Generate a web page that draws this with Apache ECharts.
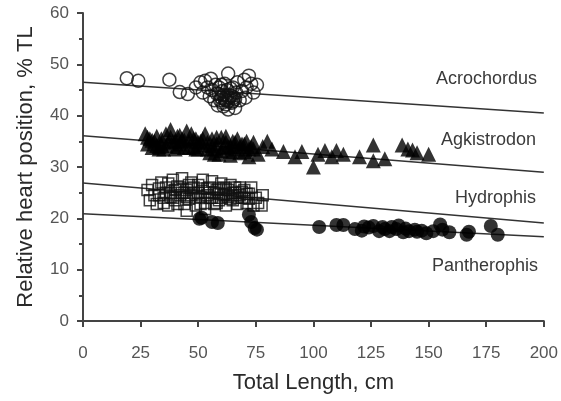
<!DOCTYPE html>
<html>
<head>
<meta charset="utf-8">
<script src="https://cdn.jsdelivr.net/npm/echarts@6/dist/echarts.min.js"></script>
<style>
  html, body { margin: 0; padding: 0; background: #fff; }
  #chart { width: 561px; height: 401px; }
</style>
</head>
<body>
<div id="chart"></div>
<script>
// total length (cm), relative heart position (% TL)
const acrochordus = [
  [19,47.3],[24,46.8],[37.5,47],[42,44.6],[45.5,44.2],[49,45.5],[51,46.5],[52,44.5],[53,46.8],[54,45.5],
  [55,43.8],[55.5,47.2],[56,45],[57,43],[57.5,46],[58,44.3],[58.5,42],[59,45.5],[60,43.5],[60.5,44.8],
  [61,41.8],[61.5,46.2],[62,43],[62.5,45],[63,48.2],[63,41.2],[64,44],[64.5,42.5],[65,45.5],[65.5,43.5],
  [66,41.5],[66.5,44.5],[67,46.5],[68,43],[69,44.8],[70,47],[71,45.5],[72,47.8],[73,46.2],[74,44.5],
  [75.5,46],[70.5,43.5],[59.5,43],[61,44],[63.5,43.5],[62,42.2],[64,45.3],[60,46],[62.5,44],[63,42.8],
  [61.5,43.2],[64.5,43.8],[60.5,42.5],[65,42.8],[59,44.2],[66,43.2]
];
const agkistrodon = [
  [27,36.5],[28,34.5],[29,35.5],[30,33.8],[31,35],[32,36],[33,34],[34,35.5],[35,33.5],[36,36.5],
  [37,34.8],[38,37.3],[39,35],[40,33.5],[41,36],[42,34.5],[43,35.5],[44,33.8],[45,37],[46,35],
  [47,36.5],[48,34],[49,35.5],[50,33.5],[51,35],[52,34.3],[53,36.5],[54,34.8],[55,32.8],[56,35.5],
  [57,33.5],[58,34.5],[59,32.5],[60,35.8],[61,33.8],[62,36],[63,34],[64,32.3],[65,35],[66,33.5],
  [67,35.5],[68,32.8],[69,34.5],[70,33],[71,35],[72,32],[73,34],[74,33.5],[76,32.5],[78,34],
  [80,35],[82,33.5],[87,33],[92,32],[95,33],[100,30],[102,32.5],[105,33.2],[108,32],[110,33.2],
  [113,32.5],[120,32],[126,34.3],[126,31.2],[131,31.6],[138.5,34.3],[141,33.5],[143,33.3],[145,32.8],[150,32.5],
  [28,35.8],[30,35.2],[32,34.2],[34,34.5],[36,34.2],[38,35.8],[40,35],[42,36.2],[44,35.2],[46,33.8],
  [48,35.5],[50,34.8],[52,35.5],[54,33.5],[56,34.2],[58,35.8],[60,33.2],[62,34.8],[64,34],[66,34.8],
  [68,34],[70,34.5],[72,33.5],[74,34.8],[64,33],[57,32.5],[49,33.5],[41,34],[33,33.5]
];
const hydrophis = [
  [28,25.5],[29,23.5],[30,26.5],[31,24.5],[32,22.8],[33,25.8],[34,27],[35,24],[36,26],[37,22.5],
  [38,25],[39,27.5],[40,23.5],[41,26.2],[42,24.5],[43,27.8],[44,22.8],[45,25.5],[46,23.8],[47,27],
  [48,25],[49,22.5],[50,26.5],[51,24.2],[52,27.5],[53,23],[54,25.8],[55,24],[56,27.2],[57,22.8],
  [58,25.5],[59,23.5],[60,26.8],[61,24.5],[62,22.5],[63,25.5],[64,26.5],[65,23.5],[66,25],[67,22.8],
  [68,26],[69,24],[70,25.5],[71,23],[72,24.8],[73,26],[74,22.5],[75,24],[76,23],[77.5,22.5],
  [78,24.5],[53,21.8],[45,21.5],[33,24.5],[36,25],[39,24],[42,26],[44,25],[47,24.5],[50,25],
  [53,25],[56,24],[59,25.8],[62,24.8],[65,25],[68,24.5],[71,24.8],[40,25.5],[48,26],[58,23],
  [64,23.8],[70,24],[37,26.8],[46,26.5],[55,26],[61,26],[35,23],[41,22.8],[51,22.8],[67,24],
  [38,24.2],[43,25],[49,24],[52,25.8],[57,25],[60,24],[63,24.2],[66,26],[69,25.2],[72,23.8],
  [45,24.2],[54,24.5],[47,25.8],[59,24.8],[62,25.8],[65,24.5]
];
const pantherophis = [
  [50.5,19.9],[51.5,20.1],[56,19.3],[58.5,19.1],[72,20.7],[73,19.3],[74.5,18.1],[75.5,17.8],
  [102.5,18.3],[110,18.7],[113,18.7],[118,17.9],[121,17.6],[124,18.2],[126,18.5],[128.5,17.5],
  [131,17.9],[134,18.3],[136,17.9],[137,18.6],[139,17.3],[141.5,17.5],[144,17.8],[145,17.4],
  [149,17.1],[152,17.5],[155,18.8],[156,17.8],[159,17.3],[166.5,16.8],[167.5,17.4],[177,18.5],[180,16.8],
  [122,18.4],[130,18.3],[133,17.5],[140,18],[147,17.6]
];
// regression lines, ends at 0 and 200 cm
const lineX = [0, 200];
const acroLine = [46.5, 40.5];
const agkLine = [36.1, 29.0];
const hydLine = [26.9, 19.1];
const panLine = [20.9, 16.4];

const xTicks = [0, 25, 50, 75, 100, 125, 150, 175, 200];
const yTicks = [0, 10, 20, 30, 40, 50, 60];

const chart = echarts.init(document.getElementById('chart'));

function fitLine(ys) {
  return {
    type: 'line', data: lineX.map((x, i) => [x, ys[i]]),
    symbol: 'none', silent: true, z: 1,
    lineStyle: { color: '#333', width: 1.5 }
  };
}

const labelFont = { fontFamily: 'Liberation Sans, Arial, sans-serif', fontSize: 18, fill: '#3a3a3a' };

chart.setOption({
  animation: false,
  grid: { left: 83, right: 16, top: 13, bottom: 80 },
  xAxis: {
    type: 'value', min: 0, max: 200, interval: 25, offset: 10,
    name: 'Total Length, cm', nameLocation: 'middle', nameGap: 41,
    nameTextStyle: { fontFamily: 'Liberation Sans, Arial, sans-serif', fontSize: 22, color: '#2a2a2a' },
    axisLine: { lineStyle: { color: '#444', width: 2 } },
    axisTick: { length: 6, lineStyle: { color: '#444', width: 2 } },
    axisLabel: { margin: 14, fontFamily: 'Liberation Sans, Arial, sans-serif', fontSize: 17, color: '#555',
      formatter: v => xTicks.includes(v) ? String(v) : '' },
    splitLine: { show: false }
  },
  yAxis: {
    type: 'value', min: 0, max: 60, interval: 10, offset: 2,
    name: 'Relative heart position, % TL', nameLocation: 'middle', nameGap: 44,
    nameTextStyle: { fontFamily: 'Liberation Sans, Arial, sans-serif', fontSize: 22, color: '#2a2a2a' },
    axisLine: { show: true, lineStyle: { color: '#444', width: 2 } },
    axisTick: { show: true, length: 6, lineStyle: { color: '#444', width: 2 } },
    minorTick: { show: true, splitNumber: 2, length: 4, lineStyle: { color: '#444', width: 2 } },
    axisLabel: { margin: 12, fontFamily: 'Liberation Sans, Arial, sans-serif', fontSize: 17, color: '#555',
      formatter: v => yTicks.includes(v) ? String(v) : '' },
    splitLine: { show: false }
  },
  series: [
    fitLine(acroLine), fitLine(agkLine), fitLine(hydLine), fitLine(panLine),
    { type: 'scatter', data: acrochordus, symbol: 'circle', symbolSize: 13, z: 3,
      itemStyle: { color: 'rgba(0,0,0,0)', borderColor: '#111', borderWidth: 1.5 } },
    { type: 'scatter', data: agkistrodon, symbol: 'triangle', symbolSize: 15, z: 3,
      itemStyle: { color: '#000' } },
    { type: 'scatter', data: hydrophis, symbol: 'rect', symbolSize: 11, z: 3,
      itemStyle: { color: 'rgba(0,0,0,0)', borderColor: '#111', borderWidth: 1.5 } },
    { type: 'scatter', data: pantherophis, symbol: 'circle', symbolSize: 14, z: 4,
      itemStyle: { color: '#000' } }
  ],
  graphic: [
    { type: 'text', left: 436, top: 70, style: Object.assign({ text: 'Acrochordus' }, labelFont) },
    { type: 'text', left: 441, top: 131, style: Object.assign({ text: 'Agkistrodon' }, labelFont) },
    { type: 'text', left: 455, top: 189, style: Object.assign({ text: 'Hydrophis' }, labelFont) },
    { type: 'text', left: 432, top: 257, style: Object.assign({ text: 'Pantherophis' }, labelFont) }
  ]
});
</script>
</body>
</html>
